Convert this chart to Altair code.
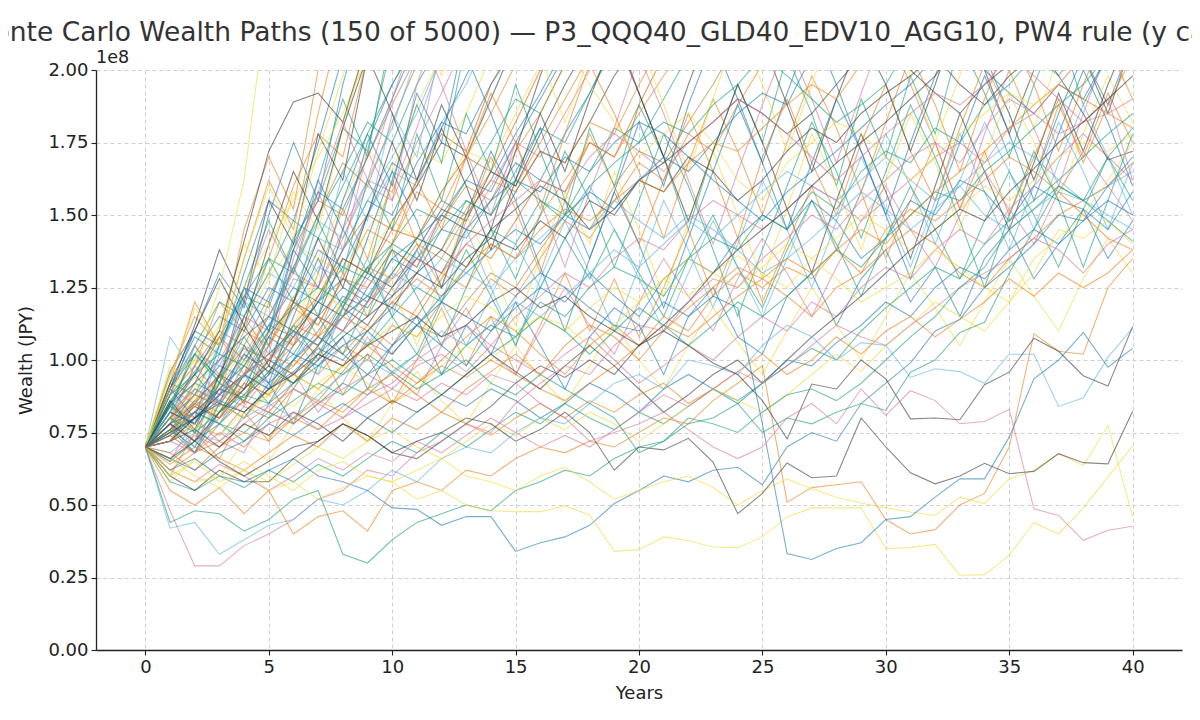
import altair as alt
import pandas as pd

# ---------------- data (wealth in units of 1e8 JPY, one value per year 0..40) ----------------
YEARS_MAX = 40

p_low_pink = [0.70, 0.48, 0.29, 0.29, 0.36, 0.40, 0.45, 0.52, 0.55, 0.62,
              0.60, 0.68, 0.72, 0.78, 0.75, 0.85, 0.92, 0.98, 0.95, 1.05,
              1.12, 1.10, 1.20, 1.28, 1.25, 1.35, 1.42, 1.50, 1.45, 1.55,
              1.62, 1.70, 1.75, 1.68, 1.80, 1.90, 1.85, 1.95, 2.05, 2.10,
              2.20]
p_low_lblue = [0.70, 0.42, 0.44, 0.33, 0.38, 0.43, 0.45, 0.52, 0.50, 0.55,
               0.62, 0.58, 0.66, 0.70, 0.68, 0.75, 0.80, 0.78, 0.85, 0.92,
               0.95, 0.90, 1.00, 0.98, 0.95, 1.05, 1.12, 1.08, 1.00, 1.06,
               1.05, 0.94, 0.97, 0.96, 0.92, 1.02, 1.02, 0.84, 0.87, 1.01,
               1.11]
p_low_green = [0.70, 0.44, 0.48, 0.47, 0.41, 0.45, 0.52, 0.55, 0.33, 0.30,
               0.38, 0.44, 0.47, 0.50, 0.48, 0.55, 0.58, 0.62, 0.60, 0.66,
               0.70, 0.72, 0.80, 0.78, 0.75, 0.82, 0.88, 0.90, 0.86, 0.92,
               1.00, 1.08, 1.15, 1.25, 1.32, 1.45, 1.52, 1.60, 1.55, 1.48,
               1.41]
p_low_blue = [0.70, 0.62, 0.66, 0.60, 0.58, 0.62, 0.66, 0.60, 0.58, 0.55,
              0.49, 0.485, 0.43, 0.46, 0.46, 0.34, 0.37, 0.39, 0.43, 0.505,
              0.55, 0.60, 0.58, 0.62, 0.63, 0.57, 0.70, 0.75, 0.72, 0.85,
              0.92, 0.99, 1.10, 1.14, 1.25, 1.32, 1.40, 1.50, 1.48, 1.60,
              1.70]
p_low_orange = [0.70, 0.55, 0.50, 0.56, 0.47, 0.55, 0.40, 0.46, 0.48, 0.41,
                0.55, 0.58, 0.55, 0.62, 0.60, 0.66, 0.70, 0.68, 0.72, 0.70,
                0.75, 0.80, 0.78, 0.86, 0.92, 0.98, 0.51, 0.56, 0.57, 0.58,
                0.45, 0.40, 0.415, 0.50, 0.54, 0.70, 1.09, 1.03, 1.02, 1.25,
                1.35]
p_low_yellow_a = [0.70, 0.60, 0.65, 0.58, 0.62, 0.55, 0.58, 0.52, 0.56, 0.60,
                  0.58, 0.52, 0.55, 0.50, 0.48, 0.477, 0.477, 0.497, 0.466, 0.34,
                  0.346, 0.39, 0.377, 0.355, 0.353, 0.39, 0.459, 0.49, 0.49, 0.49,
                  0.35, 0.353, 0.364, 0.258, 0.26, 0.327, 0.44, 0.40, 0.49, 0.596,
                  0.705]
p_low_yellow_b = [0.70, 0.62, 0.58, 0.60, 0.65, 0.60, 0.55, 0.62, 0.65, 0.60,
                  0.58, 0.62, 0.66, 0.60, 0.58, 0.55, 0.60, 0.63, 0.58, 0.52,
                  0.55, 0.58, 0.60, 0.56, 0.50, 0.55, 0.59, 0.556, 0.527, 0.507,
                  0.49, 0.476, 0.464, 0.527, 0.505, 0.59, 0.62, 0.677, 0.636, 0.774,
                  0.459]
p_low_gray_a = [0.70, 0.66, 0.72, 0.65, 0.60, 0.65, 0.70, 0.72, 0.78, 0.74,
                0.68, 0.72, 0.75, 0.80, 0.78, 0.72, 0.76, 0.82, 0.75, 0.62,
                0.70, 0.69, 0.73, 0.648, 0.47, 0.54, 0.645, 0.594, 0.60, 0.80,
                0.70, 0.611, 0.573, 0.60, 0.644, 0.608, 0.616, 0.677, 0.646, 0.642,
                0.823]
p_low_gray_b = [0.70, 0.75, 0.80, 0.85, 0.82, 0.90, 0.95, 1.02, 0.98, 1.05,
                1.10, 1.15, 1.08, 1.12, 1.20, 1.25, 1.18, 1.22, 1.15, 1.10,
                1.05, 1.10, 1.05, 0.99, 0.95, 0.86, 0.728, 0.917, 0.90, 1.00,
                0.935, 0.797, 0.80, 0.794, 0.915, 0.958, 1.075, 1.03, 0.946, 0.91,
                1.115]
p_low_blue_drop = [0.70, 0.78, 0.82, 0.90, 0.87, 0.95, 1.02, 0.98, 1.05, 1.10,
                   1.02, 1.12, 1.20, 1.15, 1.10, 1.22, 1.30, 1.25, 1.18, 1.12,
                   1.10, 1.20, 1.15, 1.22, 1.18, 0.78, 0.333, 0.312, 0.35, 0.37,
                   0.45, 0.46, 0.527, 0.59, 0.59, 0.734, 0.935, 1.00, 1.095, 0.975,
                   1.04]
p_low_pink_late = [0.70, 0.72, 0.68, 0.75, 0.70, 0.78, 0.82, 0.76, 0.80, 0.85,
                   0.90, 0.86, 0.92, 0.88, 0.95, 0.92, 0.85, 0.80, 0.72, 0.75,
                   0.78, 0.82, 0.76, 0.70, 0.66, 0.70, 0.80, 0.85, 0.78, 0.90,
                   0.81, 0.894, 0.86, 0.78, 0.788, 0.83, 0.487, 0.464, 0.378, 0.413,
                   0.427]
p_low_green_late = [0.70, 0.80, 0.75, 0.82, 0.88, 0.85, 0.92, 0.98, 0.95, 1.02,
                    0.96, 0.90, 0.95, 1.00, 0.92, 0.88, 0.95, 0.90, 0.85, 0.80,
                    0.68, 0.72, 0.78, 0.80, 0.85, 0.75, 0.80, 0.78, 0.82, 0.85,
                    0.826, 0.958, 1.00, 1.095, 1.13, 1.30, 1.45, 1.60, 1.55, 1.70,
                    1.80]

m01 = [0.70, 0.82, 0.78, 0.90, 0.98, 0.92, 1.00, 1.08, 1.02, 0.95,
       1.05, 1.12, 1.05, 0.98, 1.10, 1.18, 1.25, 1.20, 1.30, 1.22,
       1.15, 1.28, 1.35, 1.30, 1.42, 1.50, 1.45, 1.55, 1.48, 1.35,
       1.42, 1.55, 1.50, 1.62, 1.58, 1.48, 1.60, 1.55, 1.52, 1.45,
       1.58]
m02 = [0.70, 0.75, 0.85, 0.80, 0.92, 0.88, 0.95, 0.90, 0.98, 1.05,
       0.98, 0.92, 1.00, 1.08, 1.15, 1.10, 1.02, 0.95, 1.05, 1.12,
       1.05, 1.15, 1.10, 1.22, 1.30, 1.25, 1.32, 1.28, 1.38, 1.30,
       1.45, 1.52, 1.48, 1.55, 1.62, 1.70, 1.65, 1.58, 1.50, 1.42,
       1.38]
m03 = [0.70, 0.65, 0.72, 0.78, 0.75, 0.82, 0.78, 0.85, 0.92, 0.88,
       0.96, 1.02, 0.95, 1.05, 1.12, 1.08, 1.20, 1.15, 1.25, 1.32,
       1.28, 1.22, 1.35, 1.42, 1.38, 1.50, 1.45, 1.58, 1.52, 1.65,
       1.72, 1.68, 1.80, 1.75, 1.88, 1.95, 2.05, 1.98, 2.10, 2.20,
       2.30]
m04 = [0.70, 0.78, 0.72, 0.80, 0.86, 0.82, 0.78, 0.85, 0.90, 0.95,
       0.90, 0.98, 1.02, 0.96, 1.05, 1.00, 0.95, 1.02, 1.08, 1.00,
       0.92, 0.98, 1.05, 1.00, 1.08, 1.15, 1.10, 1.20, 1.15, 1.25,
       1.32, 1.28, 1.38, 1.45, 1.40, 1.52, 1.60, 1.70, 1.78, 1.70,
       1.62]
m05 = [0.70, 0.72, 0.80, 0.88, 0.95, 1.02, 1.10, 1.05, 1.15, 1.22,
       1.18, 1.30, 1.38, 1.32, 1.45, 1.52, 1.60, 1.55, 1.45, 1.52,
       1.62, 1.68, 1.75, 1.82, 1.90, 1.85, 1.78, 1.85, 1.95, 2.05,
       2.10, 2.00, 1.92, 1.85, 1.95, 2.02, 2.10, 1.98, 1.85, 1.69,
       1.72]
m06 = [0.70, 0.80, 0.76, 0.85, 0.80, 0.88, 0.95, 0.90, 0.98, 0.92,
       0.85, 0.90, 0.98, 1.05, 1.00, 1.08, 1.15, 1.10, 1.18, 1.25,
       1.20, 1.28, 1.35, 1.30, 1.25, 1.32, 1.40, 1.35, 1.42, 1.50,
       1.45, 1.38, 1.45, 1.52, 1.60, 1.55, 1.62, 1.70, 1.75, 1.72,
       1.78]
m07 = [0.70, 0.68, 0.75, 0.72, 0.80, 0.85, 0.80, 0.88, 0.95, 1.00,
       0.95, 1.02, 1.10, 1.05, 1.12, 1.20, 1.15, 1.22, 1.30, 1.38,
       1.32, 1.40, 1.48, 1.42, 1.50, 1.58, 1.65, 1.60, 1.55, 1.62,
       1.70, 1.62, 1.55, 1.60, 1.50, 1.45, 1.52, 1.58, 1.55, 1.50,
       1.45]
m08 = [0.70, 0.62, 0.68, 0.72, 0.78, 0.74, 0.80, 0.86, 0.82, 0.90,
       0.95, 0.88, 0.82, 0.90, 0.96, 1.02, 0.95, 1.05, 1.12, 1.08,
       1.00, 1.10, 1.18, 1.25, 1.32, 1.28, 1.22, 1.15, 1.25, 1.30,
       1.38, 1.45, 1.40, 1.30, 1.25, 1.35, 1.42, 1.50, 1.55, 1.60,
       1.68]
m09 = [0.70, 0.85, 0.92, 1.00, 1.08, 1.15, 1.10, 1.20, 1.28, 1.22,
       1.35, 1.42, 1.50, 1.45, 1.55, 1.62, 1.58, 1.70, 1.65, 1.75,
       1.82, 1.78, 1.70, 1.62, 1.55, 1.48, 1.58, 1.65, 1.72, 1.80,
       1.88, 1.95, 2.05, 2.10, 2.00, 1.92, 1.85, 1.95, 1.90, 2.05,
       2.10]
m10 = [0.70, 0.76, 0.82, 0.78, 0.72, 0.80, 0.86, 0.92, 0.88, 0.95,
       1.00, 0.94, 0.88, 0.95, 1.02, 1.08, 1.15, 1.10, 1.02, 1.10,
       1.18, 1.12, 1.05, 1.12, 1.20, 1.15, 1.22, 1.30, 1.38, 1.32,
       1.42, 1.50, 1.58, 1.55, 1.65, 1.72, 1.80, 1.88, 1.95, 2.05,
       2.20]
m11 = [0.70, 0.66, 0.74, 0.70, 0.78, 0.84, 0.90, 0.85, 0.80, 0.88,
       0.92, 1.00, 1.06, 1.12, 1.05, 1.15, 1.22, 1.30, 1.25, 1.35,
       1.42, 1.38, 1.48, 1.55, 1.50, 1.45, 1.52, 1.60, 1.55, 1.48,
       1.55, 1.62, 1.70, 1.75, 1.68, 1.80, 1.85, 1.78, 1.82, 1.90,
       1.62]
m12 = [0.70, 0.72, 0.78, 0.74, 0.82, 0.88, 0.84, 0.92, 0.98, 1.05,
       1.12, 1.08, 1.15, 1.22, 1.18, 1.10, 1.15, 1.12, 1.05, 1.12,
       1.20, 1.28, 1.22, 1.30, 1.36, 1.30, 1.25, 1.35, 1.28, 1.20,
       1.25, 1.30, 1.38, 1.32, 1.25, 1.20, 1.30, 1.45, 1.42, 1.48,
       1.40]
m13 = [0.70, 0.78, 0.72, 0.82, 0.90, 0.98, 0.92, 1.00, 1.08, 1.15,
       1.22, 1.30, 1.25, 1.35, 1.42, 1.38, 1.48, 1.42, 1.55, 1.50,
       1.62, 1.58, 1.70, 1.65, 1.55, 1.62, 1.72, 1.80, 1.75, 1.85,
       1.92, 1.98, 2.05, 1.95, 1.88, 1.98, 2.05, 2.12, 2.05, 2.10,
       2.20]
m14 = [0.70, 0.80, 0.88, 0.85, 0.95, 1.02, 0.98, 1.08, 1.15, 1.10,
       1.20, 1.28, 1.22, 1.32, 1.40, 1.35, 1.45, 1.52, 1.48, 1.55,
       1.62, 1.58, 1.68, 1.75, 1.72, 1.80, 1.88, 1.95, 1.90, 2.02,
       2.10]
m15 = [0.70, 0.74, 0.80, 0.86, 0.82, 0.90, 0.96, 1.04, 1.00, 1.10,
       1.18, 1.12, 1.22, 1.30, 1.38, 1.45, 1.40, 1.50, 1.58, 1.52,
       1.62, 1.70, 1.65, 1.75, 1.85, 1.92, 1.88, 2.05, 2.15]
m16 = [0.70, 0.88, 0.95, 1.02, 0.98, 1.10, 1.18, 1.25, 1.20, 1.32,
       1.40, 1.35, 1.45, 1.55, 1.50, 1.62, 1.55, 1.48, 1.60, 1.68,
       1.75, 1.82, 1.78, 1.88, 1.95, 2.05, 1.98, 1.90, 1.82, 1.88,
       1.95, 2.10]
m17 = [0.70, 0.82, 0.90, 0.86, 0.95, 1.02, 1.10, 1.05, 1.15, 1.22,
       1.30, 1.25, 1.35, 1.30, 1.25, 1.35, 1.42, 1.50, 1.45, 1.55,
       1.48, 1.42, 1.50, 1.45, 1.38, 1.30, 1.35, 1.42, 1.50, 1.58,
       1.52, 1.45, 1.52, 1.60, 1.68, 1.75, 1.70, 1.62, 1.55, 1.60,
       1.65]
m18 = [0.70, 0.68, 0.62, 0.70, 0.75, 0.72, 0.80, 0.76, 0.84, 0.90,
       0.85, 0.92, 0.98, 0.94, 1.00, 0.95, 0.90, 0.86, 0.92, 0.98,
       1.05, 1.12, 1.08, 1.15, 1.22, 1.28, 1.35, 1.30, 1.38, 1.45,
       1.40, 1.50, 1.58, 1.65, 1.72, 1.80, 1.88, 1.95, 1.90, 1.85,
       1.80]
m19 = [0.70, 0.75, 0.82, 0.88, 0.95, 1.00, 1.08, 1.15, 1.10, 1.20,
       1.28, 1.35, 1.30, 1.40, 1.48, 1.55, 1.62, 1.58, 1.70, 1.78,
       1.72, 1.65, 1.75, 1.82, 1.90, 1.85, 1.78, 1.70, 1.62, 1.70,
       1.78, 1.85, 1.92, 1.88, 1.95, 2.05, 1.98, 1.90, 1.82, 1.85,
       1.90]
m20 = [0.70, 0.90, 1.00, 1.12, 1.25, 1.40, 1.55, 1.70, 1.85, 2.05,
       2.20, 2.30, 2.40, 2.50, 2.40, 2.30, 2.20, 2.10, 1.95, 1.82,
       1.70, 1.78, 1.85, 1.75, 1.62, 1.55, 1.68, 1.75, 1.82, 1.78,
       1.70, 1.62, 1.70, 1.78, 1.85, 1.92, 1.88, 1.95, 2.05, 2.10,
       2.20]
m21 = [0.70, 0.72, 0.76, 0.70, 0.78, 0.74, 0.82, 0.78, 0.72, 0.80,
       0.86, 0.82, 0.88, 0.95, 1.02, 0.96, 0.90, 0.98, 1.05, 0.98,
       0.90, 0.82, 0.88, 0.95, 1.00, 0.92, 1.00, 1.08, 1.15, 1.22,
       1.30, 1.38, 1.45, 1.52, 1.48, 1.58, 1.66, 1.75, 1.82, 1.90,
       1.98]
m22 = [0.70, 0.66, 0.62, 0.68, 0.72, 0.78, 0.74, 0.80, 0.85, 0.80,
       0.75, 0.82, 0.88, 0.84, 0.90, 0.86, 0.80, 0.85, 0.92, 0.88,
       0.82, 0.90, 0.95, 0.90, 0.85, 0.92, 1.00, 0.98, 1.06, 1.12,
       1.20, 1.15, 1.25, 1.32, 1.28, 1.38, 1.45, 1.40, 1.48, 1.55,
       1.50]
m23 = [0.70, 0.64, 0.70, 0.66, 0.62, 0.68, 0.74, 0.70, 0.78, 0.72,
       0.80, 0.76, 0.82, 0.78, 0.74, 0.80, 0.85, 0.80, 0.86, 0.82,
       0.88, 0.92, 0.85, 0.90, 0.96, 1.02, 0.95, 1.00, 1.08, 1.02,
       1.10, 1.15, 1.08, 1.14, 1.20, 1.28, 1.22, 1.30, 1.25, 1.30,
       1.38]
m24 = [0.70, 0.58, 0.55, 0.60, 0.56, 0.62, 0.58, 0.64, 0.60, 0.66,
       0.72, 0.68, 0.75, 0.70, 0.76, 0.82, 0.78, 0.85, 0.80, 0.76,
       0.82, 0.78, 0.84, 0.90, 0.86, 0.92, 0.98, 1.04, 1.00, 1.10,
       1.18, 1.25, 1.32, 1.28, 1.40, 1.48, 1.55, 1.62, 1.70, 1.78,
       1.85]
m25 = [0.70, 0.66, 0.60, 0.56, 0.62, 0.58, 0.64, 0.70, 0.66, 0.72,
       0.76, 0.70, 0.66, 0.72, 0.78, 0.74, 0.80, 0.76, 0.82, 0.78,
       0.72, 0.78, 0.84, 0.90, 0.86, 0.82, 0.88, 0.95, 1.02, 0.96,
       1.05, 1.12, 1.20, 1.15, 1.10, 1.20, 1.35, 1.42, 1.50, 1.62,
       1.75]
m26 = [0.70, 0.62, 0.58, 0.64, 0.60, 0.55, 0.60, 0.66, 0.62, 0.68,
       0.65, 0.72, 0.68, 0.74, 0.80, 0.75, 0.70, 0.74, 0.70, 0.76,
       0.82, 0.88, 0.84, 0.90, 0.96, 0.92, 0.98, 1.05, 1.12, 1.08,
       1.05, 1.12, 1.18, 1.25, 1.30, 1.35, 1.42, 1.38, 1.30, 1.40,
       1.45]
m27 = [0.70, 0.60, 0.55, 0.62, 0.58, 0.58, 0.66, 0.72, 0.78, 0.74,
       0.68, 0.66, 0.72, 0.78, 0.84, 0.92, 0.98, 0.94, 1.00, 0.95,
       1.05, 1.12, 1.20, 1.30, 1.38, 1.45, 1.52, 1.60, 1.68, 1.75,
       1.82, 1.90, 1.98, 2.10]

w01 = [0.70, 0.85, 1.02, 0.92, 1.15, 1.35, 1.20, 1.48, 1.30, 1.62,
       1.45, 1.78, 1.55, 1.85, 1.65, 1.95, 1.72, 1.50, 1.80, 1.60,
       1.88, 1.70, 1.45, 1.72, 1.95, 1.75, 2.05, 1.85, 1.60, 1.90,
       1.70, 1.98, 1.78, 2.10, 1.92, 1.70, 1.95, 2.15, 1.88, 2.05,
       2.20]
w02 = [0.70, 0.78, 0.92, 1.08, 0.95, 1.20, 1.05, 1.30, 1.52, 1.35,
       1.62, 1.40, 1.25, 1.48, 1.70, 1.52, 1.30, 1.55, 1.78, 1.60,
       1.40, 1.62, 1.85, 1.65, 1.42, 1.70, 1.90, 1.68, 1.50, 1.75,
       1.95, 1.72, 1.55, 1.80, 2.02, 1.85, 1.62, 1.88, 1.70, 1.92,
       1.75]
w03 = [0.70, 0.90, 0.80, 1.05, 1.25, 1.10, 1.38, 1.62, 1.45, 1.75,
       1.95, 2.10, 2.25, 2.05, 1.85, 1.62, 1.80, 1.55, 1.35, 1.58,
       1.82, 1.60, 1.88, 2.10, 1.90, 1.68, 1.92, 2.15, 1.95, 1.72,
       1.50, 1.75, 1.98, 2.20, 2.05, 1.85, 1.62, 1.85, 2.05, 1.88,
       2.10]
w04 = [0.70, 0.75, 0.88, 0.80, 1.00, 0.88, 1.12, 1.30, 1.15, 1.42,
       1.25, 1.05, 1.28, 1.50, 1.32, 1.12, 1.35, 1.58, 1.40, 1.65,
       1.45, 1.22, 1.48, 1.72, 1.50, 1.28, 1.52, 1.78, 1.60, 1.38,
       1.62, 1.85, 1.68, 1.45, 1.70, 1.92, 1.75, 1.55, 1.78, 1.98,
       1.82]
w05 = [0.70, 0.92, 1.10, 1.28, 1.12, 1.40, 1.65, 1.48, 1.80, 2.05,
       1.85, 1.62, 1.88, 1.70, 1.45, 1.72, 1.98, 2.20, 2.35, 2.15,
       1.92, 1.70, 1.95, 2.18, 2.30, 2.10, 1.88, 1.65, 1.90, 2.12,
       1.95, 1.72, 1.95, 2.20, 2.00, 1.78, 2.00, 2.25, 2.05, 1.85,
       2.10]
w06 = [0.70, 0.80, 0.70, 0.88, 1.02, 0.90, 1.10, 0.95, 1.18, 1.35,
       1.15, 1.38, 1.20, 1.45, 1.25, 1.05, 1.28, 1.48, 1.30, 1.10,
       1.32, 1.55, 1.38, 1.18, 1.40, 1.62, 1.45, 1.25, 1.48, 1.70,
       1.52, 1.32, 1.55, 1.78, 1.58, 1.38, 1.60, 1.82, 1.65, 1.45,
       1.68]
w07 = [0.70, 0.88, 1.05, 0.95, 1.22, 1.45, 1.30, 1.58, 1.82, 1.62,
       1.90, 2.15, 1.95, 1.72, 1.50, 1.75, 1.55, 1.32, 1.58, 1.80,
       2.05, 1.85, 1.62, 1.40, 1.65, 1.88, 2.10, 1.90, 1.68, 1.92,
       2.15, 1.95, 1.75, 1.52, 1.78, 2.00, 1.80, 1.60, 1.85, 2.08,
       1.90]
w08 = [0.70, 0.72, 0.82, 0.95, 0.85, 1.05, 1.22, 1.08, 1.30, 1.15,
       1.40, 1.62, 1.45, 1.70, 1.92, 1.75, 1.52, 1.78, 2.02, 1.85,
       1.65, 1.42, 1.68, 1.90, 1.72, 1.50, 1.75, 1.98, 1.80, 1.58,
       1.82, 2.05, 1.88, 1.65, 1.90, 2.12, 1.95, 1.72, 1.95, 2.15,
       2.30]
w09 = [0.70, 0.82, 0.95, 0.85, 1.05, 0.92, 1.15, 1.35, 1.18, 1.42,
       1.65, 1.48, 1.25, 1.50, 1.72, 1.55, 1.32, 1.10, 1.35, 1.58,
       1.40, 1.18, 1.42, 1.65, 1.88, 1.68, 1.45, 1.68, 1.90, 1.72,
       1.50, 1.28, 1.52, 1.75, 1.98, 1.78, 1.55, 1.78, 2.00, 1.82,
       1.60]
w10 = [0.70, 0.76, 0.68, 0.82, 0.95, 0.85, 1.00, 1.15, 1.02, 1.20,
       1.38, 1.22, 1.05, 1.25, 1.45, 1.28, 1.50, 1.72, 1.55, 1.32,
       1.55, 1.78, 1.60, 1.38, 1.15, 1.38, 1.60, 1.82, 1.65, 1.42,
       1.65, 1.88, 1.70, 1.48, 1.25, 1.50, 1.72, 1.55, 1.32, 1.55,
       1.78]
w11 = [0.70, 0.94, 1.18, 1.05, 1.35, 1.60, 1.42, 1.72, 1.98, 2.20,
       2.40, 2.20, 1.98, 2.20, 2.45, 2.25, 2.05, 1.82, 2.05, 2.30,
       2.10, 1.88, 1.65, 1.90, 2.15, 1.95, 1.72, 1.95, 2.20, 2.40,
       2.20, 1.98, 1.75, 1.98, 2.20, 2.00, 1.80, 2.05, 2.28, 2.10,
       1.90]
w12 = [0.70, 0.86, 0.76, 0.95, 1.12, 0.98, 1.20, 1.42, 1.25, 1.50,
       1.75, 1.55, 1.80, 1.60, 1.38, 1.62, 1.85, 1.65, 1.90, 2.12,
       1.92, 1.70, 1.48, 1.72, 1.95, 1.75, 1.52, 1.30, 1.55, 1.78,
       1.58, 1.35, 1.60, 1.85, 1.65, 1.45, 1.68, 1.92, 1.72, 1.95,
       2.15]

u01 = [0.70, 0.60, 0.75, 0.66, 0.82, 0.72, 0.90, 1.05, 0.88, 1.02,
       0.85, 1.00, 1.18, 0.98, 1.15, 0.95, 1.12, 1.30, 1.10, 1.28,
       1.08, 1.25, 1.45, 1.22, 1.42, 1.20, 1.40, 1.60, 1.38, 1.58,
       1.35, 1.55, 1.75, 1.52, 1.72, 1.50, 1.70, 1.90, 1.68, 1.88,
       2.05]
u02 = [0.70, 0.78, 0.68, 0.85, 0.80, 0.92, 0.78, 0.98, 1.08, 0.90,
       1.05, 1.15, 0.95, 1.12, 1.02, 1.20, 1.05, 0.90, 1.08, 1.18,
       1.12, 0.95, 1.15, 1.25, 1.08, 1.02, 1.22, 1.30, 1.12, 1.28,
       1.38, 1.20, 1.32, 1.15, 1.35, 1.45, 1.28, 1.40, 1.52, 1.35,
       1.48]
u03 = [0.70, 0.65, 0.80, 0.72, 0.68, 0.85, 0.96, 0.82, 0.92, 1.08,
       0.95, 0.88, 1.05, 1.18, 1.02, 0.95, 1.10, 1.25, 1.12, 1.02,
       1.20, 1.35, 1.22, 1.10, 1.28, 1.42, 1.30, 1.15, 1.32, 1.48,
       1.60, 1.45, 1.32, 1.50, 1.65, 1.52, 1.40, 1.58, 1.72, 1.60,
       1.48]
u04 = [0.70, 0.85, 0.75, 0.92, 1.08, 0.95, 1.12, 1.00, 1.18, 1.32,
       1.15, 1.02, 1.20, 1.38, 1.22, 1.05, 1.25, 1.42, 1.28, 1.45,
       1.30, 1.15, 1.35, 1.50, 1.32, 1.18, 1.38, 1.55, 1.40, 1.22,
       1.42, 1.60, 1.45, 1.28, 1.48, 1.65, 1.50, 1.32, 1.52, 1.70,
       1.55]
u05 = [0.70, 0.58, 0.66, 0.60, 0.72, 0.65, 0.78, 0.90, 0.80, 0.72,
       0.85, 0.96, 0.86, 0.78, 0.92, 1.05, 0.94, 0.85, 0.98, 1.12,
       1.00, 0.90, 1.05, 1.18, 1.06, 0.95, 1.10, 1.25, 1.12, 1.00,
       1.15, 1.30, 1.18, 1.05, 1.20, 1.35, 1.22, 1.10, 1.28, 1.42,
       1.30]
u06 = [0.70, 0.74, 0.86, 0.78, 0.92, 1.05, 0.90, 1.02, 1.18, 1.05,
       1.22, 1.38, 1.20, 1.05, 1.22, 1.40, 1.25, 1.42, 1.60, 1.45,
       1.28, 1.10, 1.30, 1.48, 1.32, 1.15, 1.35, 1.55, 1.38, 1.58,
       1.78, 1.60, 1.40, 1.62, 1.82, 1.65, 1.45, 1.68, 1.88, 1.70,
       1.50]

v01 = [0.70, 0.95, 1.15, 1.05, 1.35, 1.62, 1.45, 1.85, 2.20]
v02 = [0.70, 0.88, 1.10, 1.30, 1.18, 1.50, 1.75, 1.55, 1.95, 2.25]
v03 = [0.70, 0.82, 1.05, 0.92, 1.25, 1.48, 1.30, 1.62, 1.90, 1.70, 2.15]
v04 = [0.70, 0.98, 0.85, 1.12, 1.40, 1.28, 1.58, 1.45, 1.80, 2.10]
v05 = [0.70, 0.90, 1.12, 1.38, 1.20, 1.55, 1.40, 1.78, 1.62, 2.05]
v06 = [0.70, 0.78, 0.98, 0.88, 1.15, 1.02, 1.35, 1.58, 1.38, 1.72, 1.55, 1.95, 2.20]
v07 = [0.70, 0.86, 0.78, 1.02, 1.25, 1.10, 1.42, 1.30, 1.65, 1.48, 1.85, 1.70, 2.10]
v08 = [0.70, 0.92, 1.20, 1.05, 1.45, 1.70, 1.52, 2.00, 2.30]
v09 = [0.70, 0.80, 0.72, 0.95, 0.85, 1.10, 1.32, 1.15, 1.45, 1.30, 1.62, 1.88, 1.68, 2.10]
v10 = [0.70, 0.84, 1.02, 0.94, 1.20, 1.05, 1.38, 1.25, 1.55, 1.78, 1.60, 1.92, 1.75, 2.15]

h01 = [0.70, 0.95, 1.00, 1.25, 1.62, 2.30]
h02 = [0.70, 0.85, 0.95, 1.10, 1.41, 1.72, 1.89, 1.92, 1.82, 2.10]
h03 = [0.70, 0.90, 1.08, 1.02, 1.30, 1.55, 1.48, 1.75, 2.05]
h04 = [0.70, 0.80, 0.98, 1.20, 1.10, 1.35, 1.60, 1.78, 1.70, 2.05]
h05 = [0.70, 0.92, 0.88, 1.05, 1.22, 1.18, 1.42, 1.55, 1.80, 1.72, 2.10]
h06 = [0.70, 0.75, 0.90, 0.85, 1.02, 1.15, 1.30, 1.25, 1.45, 1.62, 1.58, 1.80, 2.05]
h07 = [0.70, 0.82, 0.78, 0.95, 1.05, 1.00, 1.18, 1.32, 1.28, 1.50, 1.65, 1.60, 1.82, 1.95, 2.15]
h08 = [0.70, 0.78, 0.85, 0.95, 0.90, 1.08, 1.20, 1.15, 1.35, 1.30, 1.48, 1.60, 1.75, 1.70, 1.90, 2.10]
h09 = [0.70, 0.88, 1.00, 0.95, 1.12, 1.28, 1.40, 1.35, 1.55, 1.72, 1.65, 1.88, 2.05]
h10 = [0.70, 0.72, 0.85, 0.80, 0.95, 1.10, 1.05, 1.22, 1.38, 1.50, 1.45, 1.62, 1.78, 1.72, 1.95, 2.10]
h11 = [0.70, 0.80, 0.92, 1.08, 1.00, 1.15, 1.32, 1.50, 1.68, 1.60, 1.82, 2.02]
h12 = [0.70, 0.76, 0.70, 0.82, 0.95, 0.90, 1.05, 1.15, 1.10, 1.25, 1.38, 1.32, 1.50, 1.62, 1.58, 1.75, 1.90, 2.05]
h13 = [0.70, 0.90, 1.05, 1.20, 1.15, 1.30, 1.48, 1.42, 1.60, 1.78, 1.95, 2.10]
h14 = [0.70, 0.84, 0.80, 0.92, 1.10, 1.05, 1.20, 1.12, 1.28, 1.45, 1.40, 1.58, 1.52, 1.70, 1.85, 2.02]
h15 = [0.70, 0.78, 0.88, 0.84, 0.98, 1.12, 1.25, 1.20, 1.38, 1.55, 1.50, 1.68, 1.82, 1.78, 1.95, 2.08]
h16 = [0.70, 0.74, 0.82, 0.90, 0.86, 0.96, 1.05, 1.15, 1.10, 1.20, 1.30, 1.42, 1.38, 1.52, 1.65, 1.60, 1.75, 1.90, 2.05]
h17 = [0.70, 0.86, 0.96, 1.08, 1.22, 1.35, 1.30, 1.50, 1.65, 1.82, 1.75, 1.95, 2.10]
h18 = [0.70, 0.80, 0.76, 0.88, 0.84, 0.95, 1.08, 1.02, 1.15, 1.28, 1.22, 1.35, 1.50, 1.45, 1.60, 1.75, 1.70, 1.85, 2.00, 2.10]
h19 = [0.70, 0.92, 1.02, 0.98, 1.15, 1.30, 1.25, 1.42, 1.38, 1.55, 1.70, 1.85, 2.05]
h20 = [0.70, 0.76, 0.84, 0.80, 0.90, 1.00, 0.95, 1.05, 1.18, 1.12, 1.25, 1.35, 1.30, 1.45, 1.42, 1.58, 1.72, 1.68, 1.82, 1.98, 2.10]
h21 = [0.70, 0.82, 0.90, 1.00, 1.12, 1.05, 1.20, 1.35, 1.30, 1.45, 1.58, 1.72, 1.68, 1.85, 2.05]
h22 = [0.70, 0.74, 0.68, 0.78, 0.86, 0.82, 0.92, 1.02, 0.98, 1.10, 1.20, 1.15, 1.28, 1.40, 1.35, 1.48, 1.62, 1.58, 1.75, 1.70, 1.88, 2.05]
h23 = [0.70, 0.88, 0.98, 1.10, 1.05, 1.22, 1.38, 1.55, 1.50, 1.70, 1.88, 2.05]
h24 = [0.70, 0.72, 0.80, 0.88, 0.95, 0.90, 1.00, 1.10, 1.22, 1.18, 1.30, 1.42, 1.55, 1.50, 1.62, 1.78, 1.92, 2.08]
h25 = [0.70, 0.84, 0.92, 0.88, 1.00, 1.12, 1.08, 1.20, 1.32, 1.28, 1.40, 1.52, 1.48, 1.62, 1.75, 1.90, 1.85, 2.02]
h26 = [0.70, 0.78, 0.72, 0.85, 0.80, 0.90, 0.98, 1.08, 1.02, 1.12, 1.05, 1.18, 1.30, 1.25, 1.40, 1.35, 1.50, 1.62, 1.75, 1.70, 1.85, 1.98, 2.10]
h27 = [0.70, 0.96, 1.10, 1.05, 1.25, 1.20, 1.40, 1.58, 1.52, 1.70, 1.90, 2.10]
h28 = [0.70, 0.80, 0.90, 0.86, 0.95, 1.05, 1.18, 1.12, 1.28, 1.25, 1.38, 1.32, 1.48, 1.60, 1.55, 1.72, 1.85, 2.02]
h29 = [0.70, 0.74, 0.82, 0.78, 0.88, 0.96, 0.92, 1.02, 1.10, 1.05, 1.15, 1.25, 1.20, 1.32, 1.45, 1.40, 1.55, 1.50, 1.65, 1.80, 1.75, 1.90, 2.05]
h30 = [0.70, 0.90, 0.85, 1.00, 1.15, 1.10, 1.28, 1.25, 1.42, 1.60, 1.55, 1.75, 1.92, 2.10]
h31 = [0.70, 1.08, 0.95, 1.05, 1.20, 1.15, 1.32, 1.48, 1.42, 1.62, 1.80, 2.05]
h32 = [0.70, 0.82, 0.78, 0.90, 1.02, 0.96, 1.08, 1.20, 1.15, 1.30, 1.25, 1.38, 1.52, 1.48, 1.65, 1.60, 1.78, 1.95, 2.10]
h33 = [0.70, 0.86, 0.94, 0.90, 1.05, 1.15, 1.10, 1.25, 1.18, 1.35, 1.48, 1.42, 1.58, 1.72, 1.68, 1.85, 2.02]
h34 = [0.70, 0.76, 0.86, 0.94, 1.04, 1.00, 1.12, 1.22, 1.35, 1.30, 1.45, 1.42, 1.58, 1.70, 1.65, 1.82, 2.00, 2.10]
h35 = [0.70, 0.72, 0.78, 0.74, 0.84, 0.80, 0.90, 0.86, 0.96, 1.06, 1.02, 1.12, 1.08, 1.20, 1.30, 1.25, 1.38, 1.50, 1.45, 1.60, 1.72, 1.68, 1.82, 1.95, 2.10]
h36 = [0.70, 0.80, 0.88, 0.98, 0.94, 1.08, 1.02, 1.15, 1.25, 1.20, 1.35, 1.30, 1.45, 1.42, 1.55, 1.68, 1.62, 1.78, 1.92, 2.08]
h37 = [0.70, 0.84, 0.78, 0.92, 0.86, 1.00, 1.10, 1.05, 1.20, 1.15, 1.30, 1.42, 1.38, 1.55, 1.50, 1.65, 1.80, 1.75, 1.92, 2.10]
h38 = [0.70, 0.78, 0.86, 0.82, 0.92, 0.88, 1.00, 0.95, 1.05, 1.00, 1.12, 1.08, 1.20, 1.15, 1.28, 1.22, 1.35, 1.48, 1.42, 1.55, 1.68, 1.62, 1.78, 1.72, 1.88, 2.02]
h39 = [0.70, 0.90, 1.02, 1.15, 1.10, 1.25, 1.20, 1.38, 1.32, 1.50, 1.68, 1.62, 1.80, 1.98, 2.15]
h40 = [0.70, 0.76, 0.84, 0.92, 0.88, 1.00, 1.12, 1.08, 1.20, 1.32, 1.28, 1.40, 1.35, 1.50, 1.62, 1.58, 1.72, 1.68, 1.82, 1.78, 1.95, 2.10]

H_PATHS = [h03, h04, h05, h06, h07, h08, h09, h10, h11, h12, h13, h14, h15, h16, h17,
           h18, h19, h20, h21, h22, h23, h24, h25, h26, h27, h28, h29, h30, h31, h32,
           h33, h34, h35, h36, h37, h38, h39, h40]
V_PATHS = [v01, v02, v03, v04, v05, v06, v07, v08, v09, v10]
W_PATHS = [w01, w02, w03, w04, w05, w06, w07, w08, w09, w10, w11, w12]
U_PATHS = [u01, u02, u03, u04, u05, u06]
M_PATHS = [m01, m02, m03, m04, m05, m06, m07, m08, m09, m10, m11, m12, m13, m14, m15,
           m16, m17, m18, m19, m20, m21, m22, m23, m24, m25, m26, m27]
L_PATHS = [p_low_pink, p_low_lblue, p_low_green, p_low_blue, p_low_orange,
           p_low_yellow_a, p_low_yellow_b, p_low_gray_a, p_low_gray_b,
           p_low_blue_drop, p_low_pink_late, p_low_green_late]
TOP_PATHS = [h01, h02]

H_TONES = ["blue", "orange", "green", "pink", "lblue", "gray", "yellow", "red",
           "brown", "blue", "green", "orange"]
V_TONES = ["orange", "blue", "green", "yellow", "gray", "pink", "lblue", "orange", "green", "blue"]
W_TONES = ["green", "orange", "blue", "yellow", "gray", "lblue", "pink", "orange", "blue",
           "green", "yellow", "gray"]
U_TONES = ["orange", "blue", "pink", "green", "yellow", "lblue"]
M_TONES = ["blue", "orange", "green", "pink", "gray", "yellow", "lblue", "orange",
           "blue", "green", "pink", "yellow", "gray", "orange", "blue", "green",
           "lblue", "orange", "pink", "yellow", "gray", "blue", "orange", "green",
           "yellow", "pink", "gray"]
L_TONES = ["pink", "lblue", "green", "blue", "orange", "yellow", "yellow", "gray",
           "gray", "blue", "pink", "green"]
TOP_TONES = ["yellow", "gray"]

TONE_NAMES = ["blue", "orange", "green", "pink", "gray", "yellow", "lblue", "red", "brown"]
TONE_HEX = ["#1f78b4", "#e8801a", "#1b9e77", "#d6789a", "#383838", "#eedc3c",
            "#5fb3e6", "#d55e00", "#b07a40"]

Y_TICKS = [0.0, 0.25, 0.5, 0.75, 1.0, 1.25, 1.5, 1.75, 2.0]
X_TICKS = [0, 5, 10, 15, 20, 25, 30, 35, 40]
TITLE = "Monte Carlo Wealth Paths (150 of 5000) \u2014 P3_QQQ40_GLD40_EDV10_AGG10, PW4 rule (y capped)"

all_paths = H_PATHS + V_PATHS + W_PATHS + U_PATHS + M_PATHS + L_PATHS + TOP_PATHS
all_tones = ([H_TONES[i % len(H_TONES)] for i in range(len(H_PATHS))] + V_TONES + W_TONES
             + U_TONES + M_TONES + L_TONES + TOP_TONES)

rows = []
for pid, (vals, tone) in enumerate(zip(all_paths, all_tones)):
    for yr, v in enumerate(vals[:YEARS_MAX + 1]):
        rows.append({"path": pid, "year": yr, "wealth": v, "tone": tone})
df = pd.DataFrame(rows)

FONT = "DejaVu Sans"

lines = alt.Chart(df).mark_line(clip=True, strokeWidth=1.1, opacity=0.6).encode(
    x=alt.X("year:Q",
            scale=alt.Scale(domain=[-2, 42], nice=False, zero=False),
            axis=alt.Axis(values=X_TICKS, format="d", title="Years")),
    y=alt.Y("wealth:Q",
            scale=alt.Scale(domain=[0, 2], nice=False),
            axis=alt.Axis(values=Y_TICKS, format=".2f", title="Wealth (JPY)")),
    color=alt.Color("tone:N", scale=alt.Scale(domain=TONE_NAMES, range=TONE_HEX), legend=None),
    detail="path:N",
    order="year:Q",
)

offset_text = alt.Chart(pd.DataFrame({"t": ["1e8"]})).mark_text(
    align="left", baseline="alphabetic", font=FONT, fontSize=17.5, color="#222222"
).encode(x=alt.value(0), y=alt.value(-7), text="t:N")

chart = alt.layer(lines, offset_text).properties(
    width=1086,
    height=580,
    title=alt.TitleParams(text=TITLE, font=FONT, fontSize=26.5, fontWeight="normal",
                          color="#333333", anchor="middle", frame="group", offset=3, dx=-12),
    autosize=alt.AutoSizeParams(type="none"),
    padding={"left": 88, "top": 62, "right": 10, "bottom": 60},
).configure_view(stroke=None).configure_axis(
    labelFont=FONT, labelFontSize=18, labelColor="#222222",
    titleFont=FONT, titleFontSize=18, titleFontWeight="normal", titleColor="#222222",
    domainColor="#222222", domainWidth=1.3, tickColor="#222222", tickSize=5, tickWidth=1.1,
    gridColor="#c4c4c4", gridDash=[4, 3], gridWidth=0.8, labelPadding=3,
).configure_axisY(titlePadding=12).configure_axisX(titlePadding=8)

chart.save("out.html", embed_options={"renderer": "svg", "actions": False})
